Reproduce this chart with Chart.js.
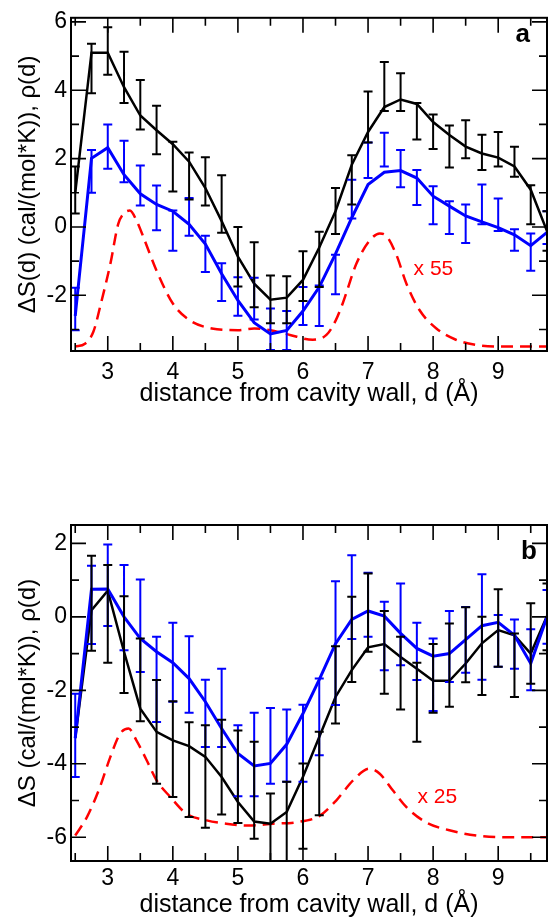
<!DOCTYPE html>
<html>
<head>
<meta charset="utf-8">
<script src="https://cdn.jsdelivr.net/npm/chart.js@4.4.1/dist/chart.umd.min.js"></script>
<style>
  html, body { margin: 0; padding: 0; background: #fff; }
  body { width: 548px; height: 920px; position: relative; overflow: hidden; }
  canvas { position: absolute; left: 0; }
  #panelA { top: 0; }
  #panelB { top: 460px; }
</style>
</head>
<body>
<canvas id="panelA" width="548" height="420"></canvas>
<canvas id="panelB" width="548" height="460"></canvas>
<script>
Chart.defaults.font.family = '"Liberation Sans", Arial, Helvetica, sans-serif';
Chart.defaults.color = '#000';

// distance from the wall (Å), shared by both panels
const dist = [2.5, 2.75, 3, 3.25, 3.5, 3.75, 4, 4.25, 4.5, 4.75, 5, 5.25, 5.5, 5.75, 6,
	6.25, 6.5, 6.75, 7, 7.25, 7.5, 7.75, 8, 8.25, 8.5, 8.75, 9, 9.25, 9.5, 9.75];
const xTicks = [3, 4, 5, 6, 7, 8, 9];

// panel a
const blackA = [1.0, 5.10, 5.10, 4.09, 3.26, 2.83, 2.42, 1.91, 1.14, 0.17, -0.87, -1.66, -2.13, -2.07, -1.55,
	-0.6, 0.46, 1.82, 2.78, 3.51, 3.73, 3.60, 3.07, 2.69, 2.35, 2.15, 2.03, 1.77, 1.09, -0.12];
const blackAHi = [1.77, 5.36, 5.84, 5.13, 4.30, 3.55, 2.49, 2.18, 2.04, 1.51, 0.0, -0.45, -1.42, -1.44, -0.71,
	-0.14, 1.14, 2.10, 3.96, 4.83, 4.50, 3.63, 3.29, 2.97, 3.12, 2.70, 2.78, 2.35, 1.22, 0.46];
const blackALo = [0.39, 3.91, 4.45, 3.63, 2.85, 2.13, 1.04, 0.80, 0.63, -0.17, -1.74, -2.35, -2.82, -2.82, -2.17,
	-1.76, -0.21, 0.66, 2.47, 3.39, 3.39, 2.56, 2.28, 1.74, 2.01, 1.67, 1.77, 1.47, 0.08, -0.70];
const blueA = [-2.6, 2.01, 2.32, 1.53, 0.97, 0.66, 0.46, 0.08, -0.50, -1.37, -2.15, -2.80, -3.13, -3.03, -2.46,
	-1.76, -0.79, 0.27, 1.24, 1.60, 1.65, 1.43, 0.90, 0.61, 0.32, 0.15, -0.02, -0.23, -0.55, -0.16];
const blueAHi = [-1.78, 2.25, 3.0, 2.52, 1.80, 1.21, 0.48, 0.85, -0.26, -1.06, -1.47, -1.49, -2.39, -2.46, -1.76,
	-1.71, -0.81, 1.38, 2.47, 2.76, 2.25, 1.67, 1.19, 0.75, 0.66, 1.24, 0.83, -0.07, -0.19, 0.46];
const blueALo = [-3.02, 1.0, 1.70, 1.31, 0.63, -0.10, -0.70, -0.26, -1.32, -2.17, -2.60, -2.71, -3.6, -3.6, -2.87,
	-2.90, -1.97, 0.25, 1.43, 1.77, 1.16, 0.64, 0.08, -0.21, -0.47, 0.08, -0.12, -0.70, -1.28, -0.50];
// water density profile, scaled x55 and shifted
const densAD = [2.5, 2.65, 2.78, 2.9, 3.04, 3.16, 3.25, 3.34, 3.45, 3.55, 3.75, 4.0, 4.25, 4.6, 5.0, 5.25, 5.5,
	5.8, 6.15, 6.36, 6.5, 6.61, 6.82, 7.02, 7.18, 7.28, 7.43, 7.59, 7.79, 8.05, 8.35, 8.66, 9.07, 9.75];
const densA = [-3.50, -3.42, -3.06, -2.2, -1.08, 0.08, 0.40, 0.48, 0.15, -0.31, -1.28, -2.24, -2.72, -2.97, -3.02,
	-2.97, -3.02, -3.16, -3.30, -3.16, -2.75, -2.24, -1.08, -0.41, -0.19, -0.26, -0.79, -1.66, -2.43, -2.97,
	-3.30, -3.45, -3.50, -3.50];
const yTicksA = [-2, 0, 2, 4, 6];
const yMinorA = [-3, -1, 1, 3, 5];

// panel b
const blackB = [-3.3, 0.18, 0.71, -0.95, -2.50, -3.13, -3.36, -3.52, -3.81, -4.36, -5.04, -5.57, -5.63, -5.31, -4.35,
	-3.27, -2.18, -1.45, -0.83, -0.74, -1.09, -1.41, -1.74, -1.74, -1.27, -0.72, -0.36, -0.50, -1.0, 0.02];
const blackBHi = [null, 1.66, 1.41, 0.56, -0.59, -1.72, -2.30, -2.87, -2.95, -2.80, -3.09, -3.40, -4.81, -4.49, -3.99,
	-3.13, -0.80, 0.55, 1.18, 0.16, -0.54, -1.25, -0.74, -0.18, 0.26, 0.0, 0.75, -0.45, 0.37, 0.91];
const blackBLo = [null, -0.92, -1.25, -2.07, -2.84, -4.54, -4.90, -5.45, -5.74, -5.38, -5.61, -6.04, -6.9, -6.9, -6.31,
	-5.40, -2.90, -1.77, -0.95, -2.09, -2.52, -3.40, -2.61, -2.45, -1.78, -2.13, -1.36, -2.18, -1.82, -0.91];
const blueB = [-3.3, 0.75, 0.76, 0.0, -0.59, -0.95, -1.25, -1.68, -2.31, -3.04, -3.72, -4.06, -3.99, -3.47, -2.63,
	-1.71, -0.73, -0.07, 0.16, 0.02, -0.45, -0.86, -1.07, -1.0, -0.62, -0.24, -0.15, -0.50, -1.27, 0.0];
const blueBHi = [-2.09, 1.39, 1.97, 1.41, 1.02, -0.54, -0.16, -0.53, -1.71, -1.41, -2.95, -2.61, -2.48, -2.52, -2.39,
	-1.68, 0.97, 1.68, 1.20, 0.41, 0.91, -0.16, -0.59, 0.16, 0.27, 1.16, 0.05, -0.07, -0.34, 0.73];
const blueBLo = [-4.36, -0.74, -0.25, -0.91, -1.50, -2.86, -2.31, -2.61, -3.54, -3.54, -4.88, -4.88, -4.54, -4.49, -4.49,
	-3.77, -2.4, -0.6, -0.54, -1.45, -1.32, -1.72, -2.56, -1.77, -1.52, -1.71, -1.36, -1.41, -2.0, -0.73];
// water density profile, scaled x25 and shifted
const densBD = [2.5, 2.68, 2.88, 3.04, 3.19, 3.32, 3.44, 3.6, 3.75, 3.96, 4.21, 4.52, 4.82, 5.17, 5.54, 5.9,
	6.26, 6.51, 6.77, 7.02, 7.18, 7.38, 7.59, 7.89, 8.25, 8.66, 9.2, 9.75];
const densB = [-5.95, -5.45, -4.63, -3.81, -3.18, -3.04, -3.36, -3.91, -4.45, -4.90, -5.36, -5.54, -5.63, -5.68,
	-5.63, -5.59, -5.41, -5.0, -4.45, -4.13, -4.27, -4.72, -5.18, -5.59, -5.81, -5.95, -6.0, -6.0];
const yTicksB = [-6, -4, -2, 0, 2];
const yMinorB = [-5, -3, -1, 1];

const xMinor = [2.5, 3.5, 4.5, 5.5, 6.5, 7.5, 8.5, 9.5];

function pts(xs, ys) {
	return xs.map((x, i) => ({ x: x, y: ys[i] }));
}

// error bars, boxed frame with inward ticks, and the text labels
const framePlugin = {
	id: 'frame',
	afterDatasetsDraw(chart, args, opts) {
		const { ctx, chartArea: a, scales: { x, y } } = chart;

		ctx.save();
		ctx.beginPath();
		ctx.rect(a.left, a.top, a.right - a.left, a.bottom - a.top);
		ctx.clip();
		chart.data.datasets.forEach(ds => {
			if (!ds.errHi) return;
			ctx.strokeStyle = ds.borderColor;
			ctx.lineWidth = 2;
			ctx.beginPath();
			dist.forEach((d, i) => {
				if (ds.errHi[i] == null) return;
				const px = x.getPixelForValue(d);
				const hi = y.getPixelForValue(ds.errHi[i]);
				const lo = y.getPixelForValue(ds.errLo[i]);
				ctx.moveTo(px, hi); ctx.lineTo(px, lo);
				ctx.moveTo(px - 4.5, hi); ctx.lineTo(px + 4.5, hi);
				ctx.moveTo(px - 4.5, lo); ctx.lineTo(px + 4.5, lo);
			});
			ctx.stroke();
		});
		ctx.restore();

		ctx.save();
		ctx.strokeStyle = '#000';
		ctx.lineWidth = 1.6;
		ctx.beginPath();
		const xt = (v, len) => {
			const px = x.getPixelForValue(v);
			ctx.moveTo(px, a.bottom); ctx.lineTo(px, a.bottom - len);
			ctx.moveTo(px, a.top); ctx.lineTo(px, a.top + len);
		};
		const yt = (v, len) => {
			const py = y.getPixelForValue(v);
			ctx.moveTo(a.left, py); ctx.lineTo(a.left + len, py);
			ctx.moveTo(a.right, py); ctx.lineTo(a.right - len, py);
		};
		xTicks.forEach(v => xt(v, 15));
		xMinor.forEach(v => xt(v, 8));
		opts.yMajor.forEach(v => yt(v, 15));
		opts.yMinor.forEach(v => yt(v, 8));
		ctx.stroke();
		ctx.lineWidth = 2;
		ctx.strokeRect(a.left, a.top, a.right - a.left, a.bottom - a.top);

		ctx.fillStyle = '#ff0000';
		ctx.font = '21px "Liberation Sans", Arial, sans-serif';
		ctx.textAlign = 'left';
		ctx.textBaseline = 'alphabetic';
		ctx.fillText(opts.scaleText, x.getPixelForValue(opts.scaleAt[0]), y.getPixelForValue(opts.scaleAt[1]));

		ctx.fillStyle = '#000';
		ctx.font = 'bold 26px "Liberation Sans", Arial, sans-serif';
		ctx.textAlign = 'right';
		ctx.fillText(opts.letter, a.right + opts.letterPos[0], a.top + opts.letterPos[1]);
		ctx.restore();
	}
};

function createPanel(canvasId, p) {
	return new Chart(document.getElementById(canvasId), {
		type: 'line',
		data: {
			datasets: [{
				data: pts(dist, p.blue),
				borderColor: '#0000ff',
				borderWidth: 3,
				errHi: p.blueHi,
				errLo: p.blueLo
			}, {
				data: pts(dist, p.black),
				borderColor: '#000000',
				borderWidth: 2.5,
				errHi: p.blackHi,
				errLo: p.blackLo
			}, {
				data: pts(p.densD, p.dens),
				borderColor: '#ff0000',
				borderWidth: 2.5,
				borderDash: [12, 7],
				cubicInterpolationMode: 'monotone'
			}]
		},
		options: {
			responsive: false,
			animation: false,
			layout: { padding: { top: p.top, right: 1, left: 0, bottom: 0 } },
			elements: { point: { radius: 0 }, line: { tension: 0, fill: false } },
			plugins: {
				legend: { display: false },
				tooltip: { enabled: false },
				frame: {
					yMajor: p.yTicks,
					yMinor: p.yMinor,
					scaleText: p.scaleText,
					scaleAt: p.scaleAt,
					letter: p.letter,
					letterPos: p.letterPos
				}
			},
			scales: {
				x: {
					type: 'linear',
					min: 2.435,
					max: 9.75,
					grid: { display: false, drawTicks: false },
					border: { display: false },
					afterBuildTicks: s => { s.ticks = xTicks.map(v => ({ value: v })); },
					afterFit: s => { s.height = p.xAxisHeight; },
					ticks: { font: { size: 23 }, color: '#000', padding: p.xTickPad, maxRotation: 0, autoSkip: false },
					title: {
						display: true,
						text: 'distance from cavity wall, d (Å)',
						font: { size: 25 },
						color: '#000',
						padding: { top: 0, bottom: p.xTitlePad }
					}
				},
				y: {
					min: p.yMin,
					max: p.yMax,
					grid: { display: false, drawTicks: false },
					border: { display: false },
					afterBuildTicks: s => { s.ticks = p.yTicks.map(v => ({ value: v })); },
					afterFit: s => { s.width = 71; },
					ticks: { font: { size: 23 }, color: '#000', padding: 4, callback: v => String(v) },
					title: {
						display: true,
						text: p.yTitle,
						font: { size: 24 },
						color: '#000',
						padding: { top: 14, bottom: 0 }
					}
				}
			}
		},
		plugins: [framePlugin]
	});
}

const chartA = createPanel('panelA', {
	black: blackA, blackHi: blackAHi, blackLo: blackALo,
	blue: blueA, blueHi: blueAHi, blueLo: blueALo,
	densD: densAD, dens: densA,
	yMin: -3.63, yMax: 6.12, yTicks: yTicksA, yMinor: yMinorA,
	yTitle: 'ΔS(d) (cal/(mol*K)), ρ(d)',
	top: 16, xAxisHeight: 69, xTickPad: 8, xTitlePad: 11,
	scaleText: 'x 55', scaleAt: [7.70, -1.42],
	letter: 'a', letterPos: [-17, 24]
});

const chartB = createPanel('panelB', {
	black: blackB, blackHi: blackBHi, blackLo: blackBLo,
	blue: blueB, blueHi: blueBHi, blueLo: blueBLo,
	densD: densBD, dens: densB,
	yMin: -6.645, yMax: 2.5, yTicks: yTicksB, yMinor: yMinorB,
	yTitle: 'ΔS (cal/(mol*K)), ρ(d)',
	top: 65, xAxisHeight: 59, xTickPad: 4, xTitlePad: 0,
	scaleText: 'x 25', scaleAt: [7.76, -5.08],
	letter: 'b', letterPos: [-10, 34]
});
</script>
</body>
</html>
